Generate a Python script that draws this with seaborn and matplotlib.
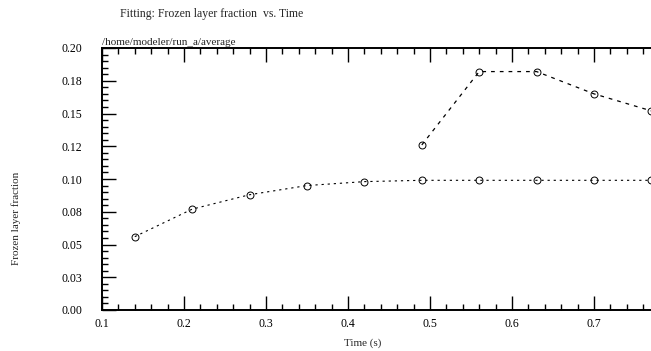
import matplotlib
matplotlib.use("Agg")
import matplotlib.pyplot as plt
from matplotlib.ticker import MultipleLocator, FixedLocator
import seaborn as sns
import pandas as pd

# data
time_lower = [0.14, 0.21, 0.28, 0.35, 0.42, 0.49, 0.56, 0.63, 0.70, 0.77]
frac_lower = [0.056, 0.077, 0.088, 0.095, 0.098, 0.099, 0.099, 0.099, 0.099, 0.099]
time_upper = [0.49, 0.56, 0.63, 0.70, 0.77]
frac_upper = [0.126, 0.182, 0.182, 0.165, 0.152]
y_ticks = [0.0, 0.025, 0.05, 0.075, 0.10, 0.125, 0.15, 0.175, 0.20]
y_ticklabels = ["0.00", "0.03", "0.05", "0.08", "0.10", "0.12", "0.15", "0.18", "0.20"]
x_ticks = [0.1, 0.2, 0.3, 0.4, 0.5, 0.6, 0.7]
x_ticklabels = ["0.1", "0.2", "0.3", "0.4", "0.5", "0.6", "0.7"]

sns.set_style("ticks")
plt.rcParams['font.family'] = ['Liberation Serif', 'DejaVu Serif']

fig = plt.figure(figsize=(6.51, 3.51), dpi=100)
ax = fig.add_axes([102/651, 41/351, 1.0, 262/351])

df_low = pd.DataFrame({"t": time_lower, "f": frac_lower})
df_up = pd.DataFrame({"t": time_upper, "f": frac_upper})
sns.lineplot(data=df_low, x="t", y="f", ax=ax, color="black", lw=0.8,
             linestyle=(0, (2, 3.5)), marker="o", markersize=5,
             markerfacecolor="none", markeredgecolor="black", markeredgewidth=0.7)
sns.lineplot(data=df_up, x="t", y="f", ax=ax, color="black", lw=0.9,
             linestyle=(0, (3, 4)), marker="o", markersize=5,
             markerfacecolor="none", markeredgecolor="black", markeredgewidth=0.7)

ax.set_xlim(0.1, 0.1 + 651 / 820)
ax.set_ylim(0.0, 0.2)

ax.yaxis.set_major_locator(FixedLocator(y_ticks))
ax.set_yticklabels(y_ticklabels)
ax.yaxis.set_minor_locator(MultipleLocator(0.005))
ax.xaxis.set_major_locator(FixedLocator(x_ticks))
ax.set_xticklabels(x_ticklabels)
ax.xaxis.set_minor_locator(MultipleLocator(0.02))

ax.tick_params(which="both", direction="in", top=True, right=False, colors="black",
               labelsize=8.5, width=1.0)
ax.tick_params(which="major", length=10)
ax.tick_params(which="minor", length=4)
ax.tick_params(axis="y", pad=14)
ax.tick_params(axis="x", pad=6)

for side in ["left", "bottom", "top"]:
    ax.spines[side].set_visible(True)
    ax.spines[side].set_linewidth(1.4)
    ax.spines[side].set_color("black")
ax.spines["right"].set_visible(False)

ax.set_xlabel("Time (s)", fontsize=8)
ax.set_ylabel("Frozen layer fraction", fontsize=8)
ax.xaxis.set_label_coords((363 - 102) / 651, -0.11)
ax.yaxis.set_label_coords((21 - 102) / 651, 0.35)

fig.text(120/651, 1 - 14/351, "Fitting: Frozen layer fraction  vs. Time",
         fontsize=8.5, ha="left", va="center")
ax.text(0.0, 1.005, "/home/modeler/run_a/average", transform=ax.transAxes,
        fontsize=8, ha="left", va="bottom")

fig.savefig("out.png", dpi=100)
